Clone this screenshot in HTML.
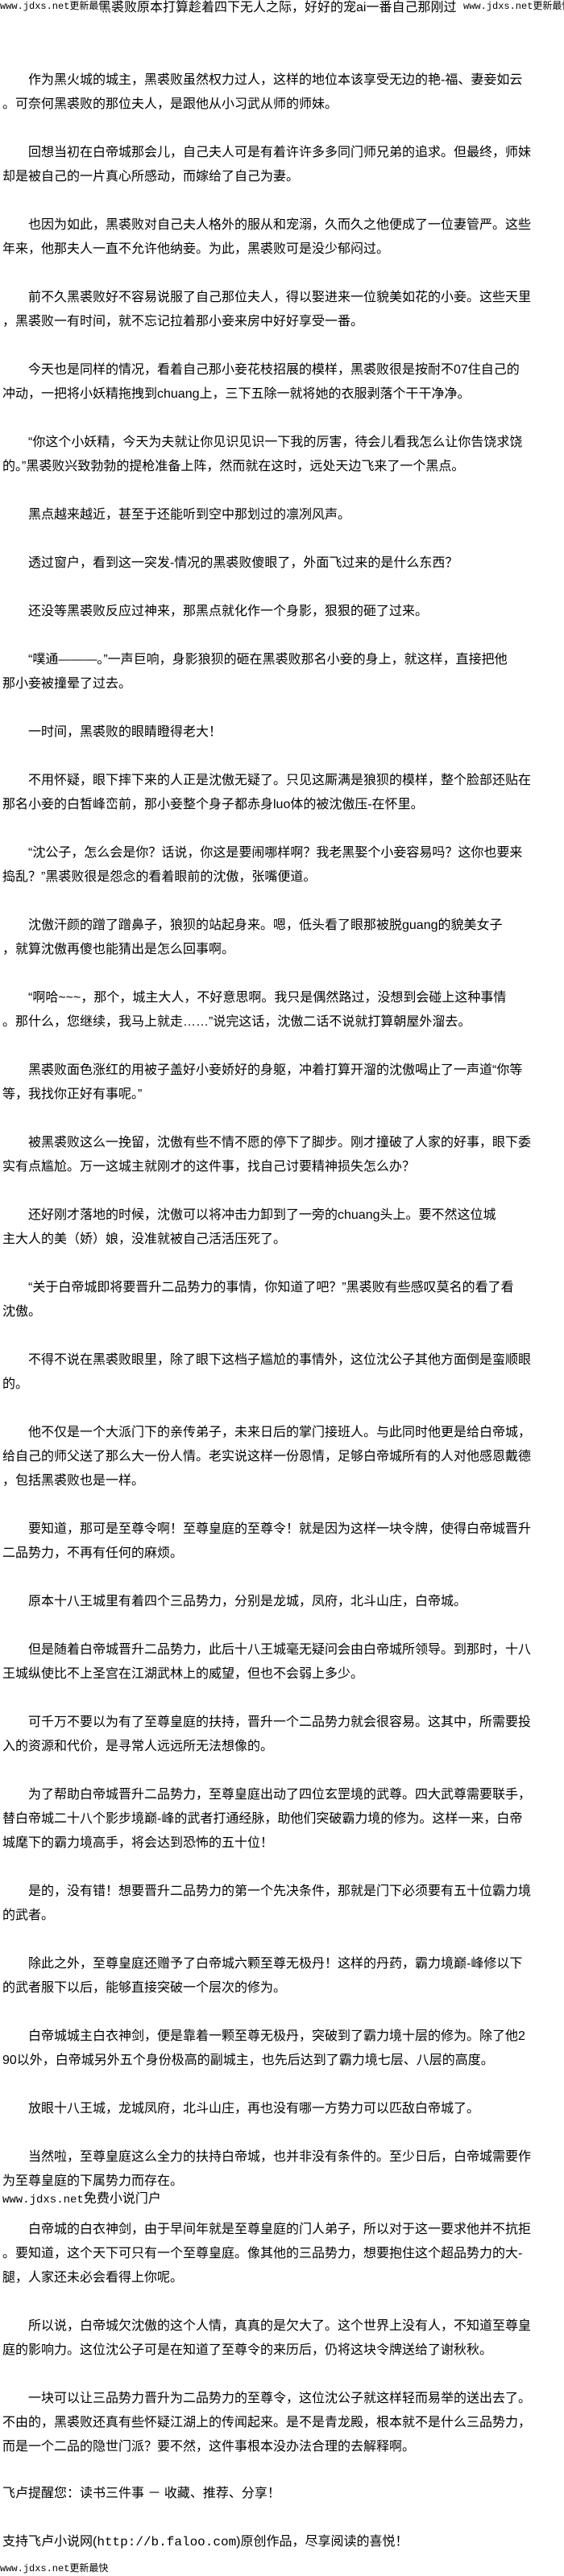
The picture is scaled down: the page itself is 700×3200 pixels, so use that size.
<!DOCTYPE html>
<html><head><meta charset="utf-8"><style>
html,body{margin:0;padding:0;background:#fff;}
body{width:700px;height:3200px;position:relative;overflow:hidden;font-family:"Liberation Sans","WenQuanYi Zen Hei","Noto Sans CJK SC",sans-serif;font-size:16px;color:#000;}
.l{position:absolute;left:3px;height:30px;line-height:30px;white-space:nowrap;}
.i{left:35px;}
.m{font-family:"Liberation Mono","WenQuanYi Zen Hei",monospace;}
.s{font-size:12px;}
</style></head><body>
<div class="l m s" style="top:0;left:0;line-height:16px;height:16px;width:125px;overflow:hidden;background:#fff;z-index:2">www.jdxs.net更新最快</div>
<div class="l" style="top:-5px;left:122px;width:453px;overflow:hidden">黑裘败原本打算趁着四下无人之际，好好的宠ai一番自己那刚过</div>
<div class="l m s" style="top:0;left:575px;line-height:16px;height:16px;width:125px;overflow:hidden;background:#fff;z-index:2">www.jdxs.net更新最快</div>
<div class="l i" style="top:85px">作为黑火城的城主，黑裘败虽然权力过人，这样的地位本该享受无边的艳-福、妻妾如云</div>
<div class="l" style="top:115px">。可奈何黑裘败的那位夫人，是跟他从小习武从师的师妹。</div>
<div class="l i" style="top:175px">回想当初在白帝城那会儿，自己夫人可是有着许许多多同门师兄弟的追求。但最终，师妹</div>
<div class="l" style="top:205px">却是被自己的一片真心所感动，而嫁给了自己为妻。</div>
<div class="l i" style="top:265px">也因为如此，黑裘败对自己夫人格外的服从和宠溺，久而久之他便成了一位妻管严。这些</div>
<div class="l" style="top:295px">年来，他那夫人一直不允许他纳妾。为此，黑裘败可是没少郁闷过。</div>
<div class="l i" style="top:355px">前不久黑裘败好不容易说服了自己那位夫人，得以娶进来一位貌美如花的小妾。这些天里</div>
<div class="l" style="top:385px">，黑裘败一有时间，就不忘记拉着那小妾来房中好好享受一番。</div>
<div class="l i" style="top:445px">今天也是同样的情况，看着自己那小妾花枝招展的模样，黑裘败很是按耐不07住自己的</div>
<div class="l" style="top:475px">冲动，一把将小妖精拖拽到chuang上，三下五除一就将她的衣服剥落个干干净净。</div>
<div class="l i" style="top:535px">“你这个小妖精，今天为夫就让你见识见识一下我的厉害，待会儿看我怎么让你告饶求饶</div>
<div class="l" style="top:565px">的。”黑裘败兴致勃勃的提枪准备上阵，然而就在这时，远处天边飞来了一个黑点。</div>
<div class="l i" style="top:625px">黑点越来越近，甚至于还能听到空中那划过的凛冽风声。</div>
<div class="l i" style="top:685px">透过窗户，看到这一突发-情况的黑裘败傻眼了，外面飞过来的是什么东西？</div>
<div class="l i" style="top:745px">还没等黑裘败反应过神来，那黑点就化作一个身影，狠狠的砸了过来。</div>
<div class="l i" style="top:805px">“噗通———。”一声巨响，身影狼狈的砸在黑裘败那名小妾的身上，就这样，直接把他</div>
<div class="l" style="top:835px">那小妾被撞晕了过去。</div>
<div class="l i" style="top:895px">一时间，黑裘败的眼睛瞪得老大！</div>
<div class="l i" style="top:955px">不用怀疑，眼下摔下来的人正是沈傲无疑了。只见这厮满是狼狈的模样，整个脸部还贴在</div>
<div class="l" style="top:985px">那名小妾的白皙峰峦前，那小妾整个身子都赤身luo体的被沈傲压-在怀里。</div>
<div class="l i" style="top:1045px">“沈公子，怎么会是你？话说，你这是要闹哪样啊？我老黑娶个小妾容易吗？这你也要来</div>
<div class="l" style="top:1075px">捣乱？”黑裘败很是怨念的看着眼前的沈傲，张嘴便道。</div>
<div class="l i" style="top:1135px">沈傲汗颜的蹭了蹭鼻子，狼狈的站起身来。嗯，低头看了眼那被脱guang的貌美女子</div>
<div class="l" style="top:1165px">，就算沈傲再傻也能猜出是怎么回事啊。</div>
<div class="l i" style="top:1225px">“啊哈~~~，那个，城主大人，不好意思啊。我只是偶然路过，没想到会碰上这种事情</div>
<div class="l" style="top:1255px">。那什么，您继续，我马上就走……”说完这话，沈傲二话不说就打算朝屋外溜去。</div>
<div class="l i" style="top:1315px">黑裘败面色涨红的用被子盖好小妾娇好的身躯，冲着打算开溜的沈傲喝止了一声道“你等</div>
<div class="l" style="top:1345px">等，我找你正好有事呢。”</div>
<div class="l i" style="top:1405px">被黑裘败这么一挽留，沈傲有些不情不愿的停下了脚步。刚才撞破了人家的好事，眼下委</div>
<div class="l" style="top:1435px">实有点尴尬。万一这城主就刚才的这件事，找自己讨要精神损失怎么办？</div>
<div class="l i" style="top:1495px">还好刚才落地的时候，沈傲可以将冲击力卸到了一旁的chuang头上。要不然这位城</div>
<div class="l" style="top:1525px">主大人的美（娇）娘，没准就被自己活活压死了。</div>
<div class="l i" style="top:1585px">“关于白帝城即将要晋升二品势力的事情，你知道了吧？”黑裘败有些感叹莫名的看了看</div>
<div class="l" style="top:1615px">沈傲。</div>
<div class="l i" style="top:1675px">不得不说在黑裘败眼里，除了眼下这档子尴尬的事情外，这位沈公子其他方面倒是蛮顺眼</div>
<div class="l" style="top:1705px">的。</div>
<div class="l i" style="top:1765px">他不仅是一个大派门下的亲传弟子，未来日后的掌门接班人。与此同时他更是给白帝城，</div>
<div class="l" style="top:1795px">给自己的师父送了那么大一份人情。老实说这样一份恩情，足够白帝城所有的人对他感恩戴德</div>
<div class="l" style="top:1825px">，包括黑裘败也是一样。</div>
<div class="l i" style="top:1885px">要知道，那可是至尊令啊！至尊皇庭的至尊令！就是因为这样一块令牌，使得白帝城晋升</div>
<div class="l" style="top:1915px">二品势力，不再有任何的麻烦。</div>
<div class="l i" style="top:1975px">原本十八王城里有着四个三品势力，分别是龙城，凤府，北斗山庄，白帝城。</div>
<div class="l i" style="top:2035px">但是随着白帝城晋升二品势力，此后十八王城毫无疑问会由白帝城所领导。到那时，十八</div>
<div class="l" style="top:2065px">王城纵使比不上圣宫在江湖武林上的威望，但也不会弱上多少。</div>
<div class="l i" style="top:2125px">可千万不要以为有了至尊皇庭的扶持，晋升一个二品势力就会很容易。这其中，所需要投</div>
<div class="l" style="top:2155px">入的资源和代价，是寻常人远远所无法想像的。</div>
<div class="l i" style="top:2215px">为了帮助白帝城晋升二品势力，至尊皇庭出动了四位玄罡境的武尊。四大武尊需要联手，</div>
<div class="l" style="top:2245px">替白帝城二十八个影步境巅-峰的武者打通经脉，助他们突破霸力境的修为。这样一来，白帝</div>
<div class="l" style="top:2275px">城麾下的霸力境高手，将会达到恐怖的五十位！</div>
<div class="l i" style="top:2335px">是的，没有错！想要晋升二品势力的第一个先决条件，那就是门下必须要有五十位霸力境</div>
<div class="l" style="top:2365px">的武者。</div>
<div class="l i" style="top:2425px">除此之外，至尊皇庭还赠予了白帝城六颗至尊无极丹！这样的丹药，霸力境巅-峰修以下</div>
<div class="l" style="top:2455px">的武者服下以后，能够直接突破一个层次的修为。</div>
<div class="l i" style="top:2515px">白帝城城主白衣神剑，便是靠着一颗至尊无极丹，突破到了霸力境十层的修为。除了他2</div>
<div class="l" style="top:2545px">90以外，白帝城另外五个身份极高的副城主，也先后达到了霸力境七层、八层的高度。</div>
<div class="l i" style="top:2605px">放眼十八王城，龙城凤府，北斗山庄，再也没有哪一方势力可以匹敌白帝城了。</div>
<div class="l i" style="top:2665px">当然啦，至尊皇庭这么全力的扶持白帝城，也并非没有条件的。至少日后，白帝城需要作</div>
<div class="l" style="top:2695px">为至尊皇庭的下属势力而存在。</div>
<div class="l m" style="top:2717px;font-size:14px">www.jdxs.net<span style="font-size:16px">免费小说门户</span></div>
<div class="l i" style="top:2755px">白帝城的白衣神剑，由于早间年就是至尊皇庭的门人弟子，所以对于这一要求他并不抗拒</div>
<div class="l" style="top:2785px">。要知道，这个天下可只有一个至尊皇庭。像其他的三品势力，想要抱住这个超品势力的大-</div>
<div class="l" style="top:2815px">腿，人家还未必会看得上你呢。</div>
<div class="l i" style="top:2875px">所以说，白帝城欠沈傲的这个人情，真真的是欠大了。这个世界上没有人，不知道至尊皇</div>
<div class="l" style="top:2905px">庭的影响力。这位沈公子可是在知道了至尊令的来历后，仍将这块令牌送给了谢秋秋。</div>
<div class="l i" style="top:2965px">一块可以让三品势力晋升为二品势力的至尊令，这位沈公子就这样轻而易举的送出去了。</div>
<div class="l" style="top:2995px">不由的，黑裘败还真有些怀疑江湖上的传闻起来。是不是青龙殿，根本就不是什么三品势力，</div>
<div class="l" style="top:3025px">而是一个二品的隐世门派？要不然，这件事根本没办法合理的去解释啊。</div>
<div class="l" style="top:3083px">飞卢提醒您：读书三件事 － 收藏、推荐、分享！</div>
<div class="l" style="top:3143px">支持飞卢小说网(<span class="m">http://b.faloo.com</span>)原创作品，尽享阅读的喜悦！</div>
<div class="l m s" style="top:3183px;left:0;line-height:16px;height:16px">www.jdxs.net更新最快</div>
</body></html>
